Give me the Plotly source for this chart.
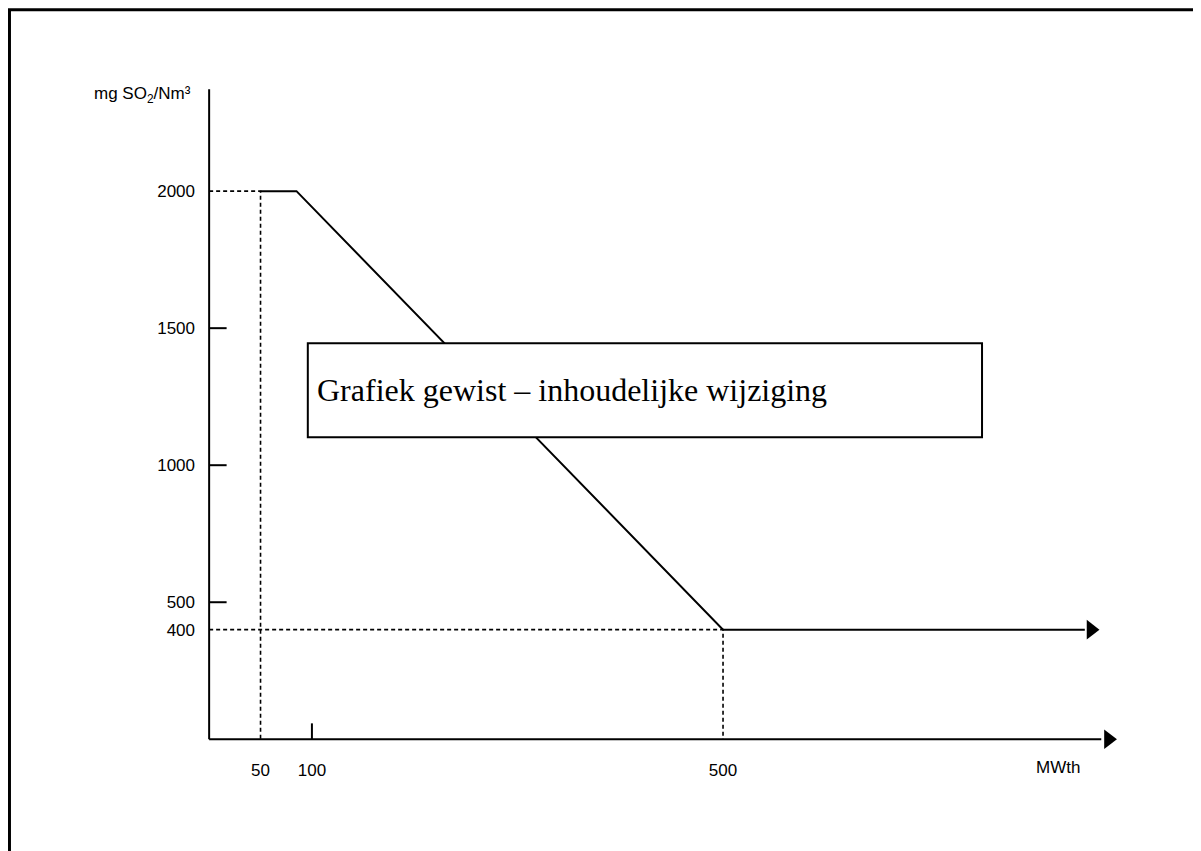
import plotly.graph_objects as go

# emission limit curve (MWth -> mg SO2/Nm3)
curve_x = [50, 85, 500, 852]
curve_y = [2000, 2000, 400, 400]

# axes
x_axis_x = [0, 868]
x_axis_y = [0, 0]
y_axis_x = [0, 0]
y_axis_y = [0, 2372]

# arrowheads
arrow_x = [858, 875]
arrow_y = [400, 0]

# dashed guide lines
guide_2000_x = [0, 50, 50]
guide_2000_y = [2000, 2000, 0]
guide_400_x = [0, 500, 500]
guide_400_y = [400, 400, 0]

# small tick marks
ytick_vals = [1500, 1000, 500]
ytick_len = 17
xtick_vals = [100]
xtick_len = 58

y_tickvals = [400, 500, 1000, 1500, 2000]
x_tickvals = [50, 100, 500]

FONT = "Liberation Sans, Arial, sans-serif"

fig = go.Figure()

line_style = dict(color="black", width=2)
dash_style = dict(color="black", width=1.6, dash="4px,3px")

fig.add_trace(go.Scatter(x=guide_2000_x, y=guide_2000_y, mode="lines", line=dash_style))
fig.add_trace(go.Scatter(x=guide_400_x, y=guide_400_y, mode="lines", line=dash_style))
fig.add_trace(go.Scatter(x=x_axis_x, y=x_axis_y, mode="lines", line=line_style))
fig.add_trace(go.Scatter(x=y_axis_x, y=y_axis_y, mode="lines", line=line_style))
fig.add_trace(go.Scatter(x=curve_x, y=curve_y, mode="lines", line=line_style))

for v in ytick_vals:
    fig.add_trace(go.Scatter(x=[0, ytick_len], y=[v, v], mode="lines", line=line_style))
for v in xtick_vals:
    fig.add_trace(go.Scatter(x=[v, v], y=[0, xtick_len], mode="lines", line=line_style))

fig.add_trace(go.Scatter(
    x=arrow_x, y=arrow_y, mode="markers", cliponaxis=False,
    marker=dict(symbol="triangle-right", size=17, color="black", line=dict(width=0)),
))

# box covering the chart
fig.add_shape(type="rect", x0=96, x1=752, y0=1102, y1=1445,
              line=dict(color="black", width=2), fillcolor="white", layer="above")
fig.add_annotation(x=103, y=1274, text="Grafiek gewist – inhoudelijke wijziging",
                   showarrow=False, xanchor="left", yanchor="middle",
                   font=dict(family="Liberation Serif, Times New Roman, serif", size=32, color="black"))

# axis titles
fig.add_annotation(xref="paper", yref="paper", x=-0.012, y=0.988,
                   text="mg SO<sub>2</sub>/Nm³", showarrow=False,
                   xanchor="right", yanchor="middle",
                   font=dict(family=FONT, size=17, color="black"))
fig.add_annotation(xref="paper", yref="paper", x=0.923, y=-0.0386,
                   text="MWth", showarrow=False,
                   xanchor="center", yanchor="middle",
                   font=dict(family=FONT, size=17, color="black"))

# page border
fig.add_shape(type="rect", xref="paper", yref="paper",
              x0=-0.2103, x1=1.3, y0=-0.4, y1=1.118,
              line=dict(color="black", width=3), layer="above")

fig.update_layout(
    width=1201, height=851,
    margin=dict(l=196, r=80, t=79, b=117),
    paper_bgcolor="white", plot_bgcolor="white",
    showlegend=False,
    xaxis=dict(range=[-5, 895], showgrid=False, zeroline=False, showline=False,
               tickvals=x_tickvals, ticks="", ticklabelstandoff=16,
               tickfont=dict(family=FONT, size=17, color="black")),
    yaxis=dict(range=[-10, 2380], showgrid=False, zeroline=False, showline=False,
               tickvals=y_tickvals, ticks="", ticklabelstandoff=8,
               tickfont=dict(family=FONT, size=17, color="black")),
)

fig.write_html("out.html")
